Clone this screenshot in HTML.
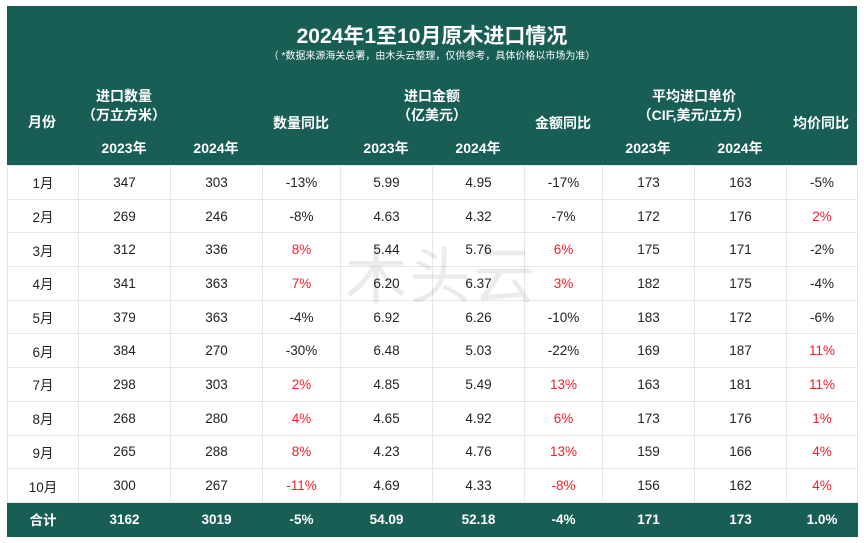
<!DOCTYPE html>
<html><head><meta charset="utf-8"><style>
body{margin:0;background:#fff;width:864px;height:543px;position:relative;overflow:hidden;font-family:"Liberation Sans","Noto Sans CJK SC",sans-serif;}
.hd{position:absolute;left:7px;top:6px;width:850px;height:159px;background:#185e55;color:#fff;}
.t{position:absolute;white-space:nowrap;transform:translateX(-50%);font-weight:bold;font-size:14px;}
.title{font-size:21px;top:14px;left:425px}
.sub{font-size:10px;font-weight:normal;top:41px;left:425px}
table{position:absolute;left:7px;top:165px;border-collapse:collapse;table-layout:fixed;}
td{border:1px solid #e6e6e6;text-align:center;font-size:13.5px;color:#222;height:32.7px;padding:0;}
td.r{color:#f0202a}
tr.tot td{background:#185e55;color:#fff;font-weight:bold;border-color:#185e55;height:33px}
.wm{position:absolute;left:345px;top:226px;font-size:62px;color:rgba(0,0,0,0.08);letter-spacing:2px;font-family:"Noto Sans CJK SC",sans-serif;}
</style></head><body>
<div class="hd">
<div class="t title">2024年1至10月原木进口情况</div>
<div class="t sub">（ *数据来源海关总署，由木头云整理，仅供参考，具体价格以市场为准）</div>
<div class="t" style="left:35px;top:106px">月份</div>
<div class="t" style="left:117px;top:80px">进口数量</div>
<div class="t" style="left:117px;top:99px">（万立方米）</div>
<div class="t" style="left:117px;top:132px">2023年</div>
<div class="t" style="left:209px;top:132px">2024年</div>
<div class="t" style="left:294px;top:107px">数量同比</div>
<div class="t" style="left:425px;top:80px">进口金额</div>
<div class="t" style="left:425px;top:99px">（亿美元）</div>
<div class="t" style="left:379px;top:132px">2023年</div>
<div class="t" style="left:471px;top:132px">2024年</div>
<div class="t" style="left:556px;top:107px">金额同比</div>
<div class="t" style="left:687px;top:80px">平均进口单价</div>
<div class="t" style="left:687px;top:99px">（CIF,美元/立方）</div>
<div class="t" style="left:641px;top:132px">2023年</div>
<div class="t" style="left:733px;top:132px">2024年</div>
<div class="t" style="left:814px;top:107px">均价同比</div>
</div>
<table>
<colgroup><col style="width:71px"><col style="width:92px"><col style="width:92px"><col style="width:78px"><col style="width:92px"><col style="width:92px"><col style="width:78px"><col style="width:92px"><col style="width:92px"><col style="width:71px"></colgroup>
<tr><td>1月</td><td>347</td><td>303</td><td>-13%</td><td>5.99</td><td>4.95</td><td>-17%</td><td>173</td><td>163</td><td>-5%</td></tr>
<tr><td>2月</td><td>269</td><td>246</td><td>-8%</td><td>4.63</td><td>4.32</td><td>-7%</td><td>172</td><td>176</td><td class="r">2%</td></tr>
<tr><td>3月</td><td>312</td><td>336</td><td class="r">8%</td><td>5.44</td><td>5.76</td><td class="r">6%</td><td>175</td><td>171</td><td>-2%</td></tr>
<tr><td>4月</td><td>341</td><td>363</td><td class="r">7%</td><td>6.20</td><td>6.37</td><td class="r">3%</td><td>182</td><td>175</td><td>-4%</td></tr>
<tr><td>5月</td><td>379</td><td>363</td><td>-4%</td><td>6.92</td><td>6.26</td><td>-10%</td><td>183</td><td>172</td><td>-6%</td></tr>
<tr><td>6月</td><td>384</td><td>270</td><td>-30%</td><td>6.48</td><td>5.03</td><td>-22%</td><td>169</td><td>187</td><td class="r">11%</td></tr>
<tr><td>7月</td><td>298</td><td>303</td><td class="r">2%</td><td>4.85</td><td>5.49</td><td class="r">13%</td><td>163</td><td>181</td><td class="r">11%</td></tr>
<tr><td>8月</td><td>268</td><td>280</td><td class="r">4%</td><td>4.65</td><td>4.92</td><td class="r">6%</td><td>173</td><td>176</td><td class="r">1%</td></tr>
<tr><td>9月</td><td>265</td><td>288</td><td class="r">8%</td><td>4.23</td><td>4.76</td><td class="r">13%</td><td>159</td><td>166</td><td class="r">4%</td></tr>
<tr><td>10月</td><td>300</td><td>267</td><td class="r">-11%</td><td>4.69</td><td>4.33</td><td class="r">-8%</td><td>156</td><td>162</td><td class="r">4%</td></tr>
<tr class="tot"><td>合计</td><td>3162</td><td>3019</td><td>-5%</td><td>54.09</td><td>52.18</td><td>-4%</td><td>171</td><td>173</td><td>1.0%</td></tr>
</table>
<div class="wm">木头云</div>
</body></html>
